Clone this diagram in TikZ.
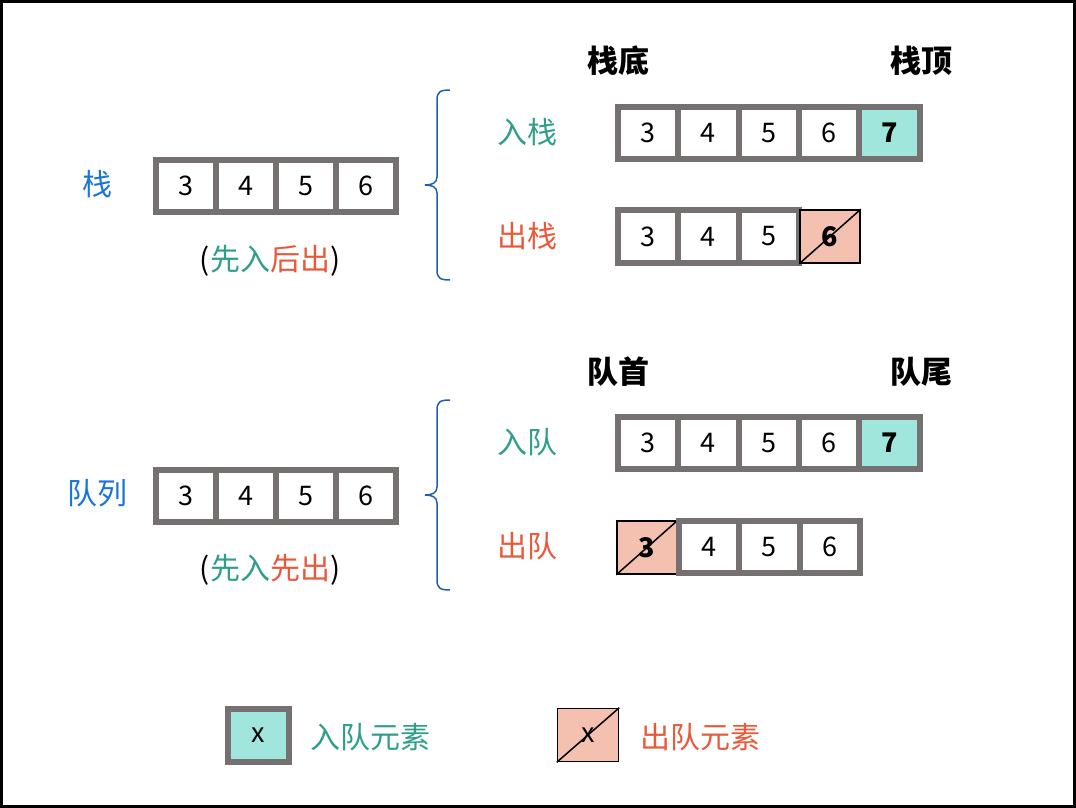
\documentclass[tikz,border=0pt]{standalone}
\usepackage{fontspec}
\setmainfont{Noto Sans CJK SC}
\definecolor{cellgray}{HTML}{767171}
\definecolor{inteal}{HTML}{A0E6DC}
\definecolor{outpink}{HTML}{F4C0B0}
\definecolor{txtteal}{HTML}{2E9E8A}
\definecolor{txtred}{HTML}{E8593A}
\definecolor{txtblue}{HTML}{1A74DA}
\definecolor{braceblue}{HTML}{1F5FAF}

\begin{document}
\begin{tikzpicture}[x=1pt,y=-1pt,
    cell/.style={draw=cellgray, line width=6pt, minimum width=60.4pt, minimum height=52pt,
        inner sep=0pt, font=\fontsize{27}{27}\selectfont},
    gone/.style={draw=black, line width=1.5pt, fill=outpink, minimum width=60pt, minimum height=53pt,
        inner sep=0pt, font=\fontsize{27}{27}\selectfont},
    lbl/.style={inner sep=0pt, font=\fontsize{30}{30}\selectfont},
    endlbl/.style={inner sep=0pt, font=\bfseries\fontsize{31}{31}\selectfont}]

\useasboundingbox (0,0) rectangle (1076,808);

% 外框
\draw[line width=3pt] (1.5,1.5) rectangle (1074.5,806.5);

% 栈
\node[lbl, text=txtblue] (stk) at (97,184) {栈};
\foreach \v [count=\i] in {3,4,5,6}
    \node[cell] (s\v) at (126+60*\i,186) {\v};
\node[lbl] (stkrule) at (270,261) {(\textcolor{txtteal}{先入}\textcolor{txtred}{后出})};

% 入栈
\node[endlbl] (bottom) at (618,61) {栈底};
\node[endlbl] (top) at (921,61) {栈顶};
\node[lbl, text=txtteal] (push) at (527,132) {入栈};
\foreach \v [count=\i] in {3,4,5,6}
    \node[cell] (pu\v) at (587.6+60.4*\i,133) {\v};
\node[cell, fill=inteal] (pu7) at (889.6,133) {\bfseries 7};

% 出栈
\node[lbl, text=txtred] (pop) at (527,236) {出栈};
\foreach \v [count=\i] in {3,4,5}
    \node[cell, minimum height=53pt] (po\v) at (587.6+60.4*\i,236.5) {\v};
\node[gone] (po6) at (830,236.5) {\bfseries 6};
\draw[line width=1.5pt] (po6.south west) -- (po6.north east);

% 队列
\node[lbl, text=txtblue] (que) at (97,493) {队列};
\foreach \v [count=\i] in {3,4,5,6}
    \node[cell] (q\v) at (126+60*\i,496) {\v};
\node[lbl] (querule) at (270,570) {(\textcolor{txtteal}{先入}\textcolor{txtred}{先出})};

% 入队
\node[endlbl] (head) at (618,372) {队首};
\node[endlbl] (tail) at (921,372) {队尾};
\node[lbl, text=txtteal] (enq) at (527,442) {入队};
\foreach \v [count=\i] in {3,4,5,6}
    \node[cell] (eq\v) at (587.6+60.4*\i,443) {\v};
\node[cell, fill=inteal] (eq7) at (889.6,443) {\bfseries 7};

% 出队
\node[lbl, text=txtred] (deq) at (527,546) {出队};
\node[gone] (dq3) at (647,547.5) {\bfseries 3};
\draw[line width=1.5pt] (dq3.south west) -- (dq3.north east);
\foreach \v [count=\i] in {4,5,6}
    \node[cell] (dq\v) at (648.6+60.4*\i,547) {\v};

% 括号
\foreach \d in {0,310} {
    \draw[braceblue, line width=1.5pt] (450,90+\d) .. controls (440,90+\d) and (437,92+\d) .. (437,100+\d)
        -- (437,177+\d) .. controls (437,183+\d) and (432,185+\d) .. (425,185+\d)
        .. controls (432,185+\d) and (437,187+\d) .. (437,193+\d)
        -- (437,270+\d) .. controls (437,278+\d) and (440,280+\d) .. (450,280+\d);
}

% 图例
\node[cell, fill=inteal, minimum width=61pt, minimum height=53pt] (keyin) at (258.5,735.5) {x};
\node[lbl, text=txtteal] (keyinlbl) at (370,737) {入队元素};
\node[gone, minimum width=61pt] (keyout) at (588,735) {x};
\draw[line width=1.5pt] (keyout.south west) -- (keyout.north east);
\node[lbl, text=txtred] (keyoutlbl) at (700,737) {出队元素};

\end{tikzpicture}
\end{document}
